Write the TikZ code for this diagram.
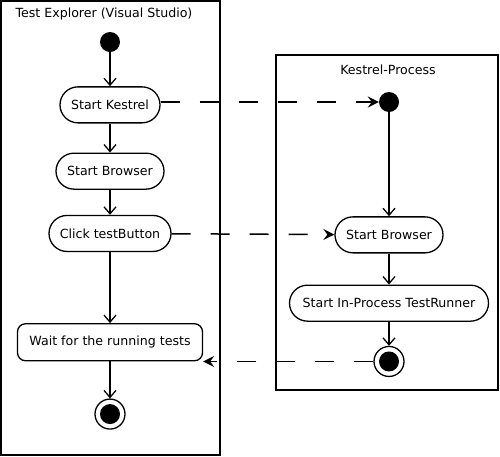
\documentclass[tikz,border=0pt]{standalone}
\usepackage{fontspec}
\setmainfont{DejaVu Sans}
\usetikzlibrary{positioning, arrows.meta}

\tikzset{
  act/.style={draw, rounded corners=18pt, minimum height=36pt, inner xsep=8pt,
              line width=1.3pt, fill=white},
  waitact/.style={draw, rounded corners=8pt, minimum height=37pt, inner xsep=10pt,
              line width=1.3pt, fill=white},
  initial/.style={circle, fill=black, minimum size=20pt, inner sep=0pt},
  final/.style={circle, draw, line width=1.3pt, minimum size=30pt, inner sep=0pt,
              path picture={\fill (path picture bounding box.center) circle (10pt);}},
  flow/.style={-{Straight Barb[length=7pt,width=12pt]}, line width=1.3pt},
  signal/.style={-{Stealth[length=11pt,width=11pt,inset=4pt]}, line width=1.5pt,
              dash pattern=on 19pt off 20pt},
  lane/.style={line width=1.6pt}
}

\begin{document}
\begin{tikzpicture}[x=1pt, y=-1pt, font=\fontsize{12.6pt}{15pt}\selectfont]
  \useasboundingbox (0,0) rectangle (500,456);

  % swimlanes
  \draw[lane] (1,1) rectangle (220,455);
  \draw[lane] (276,55) rectangle (498,390);
  \node[anchor=west] (title1) at (12,14) {Test Explorer (Visual Studio)};
  \node (title2) at (388,70) {Kestrel-Process};

  % test explorer side
  \node[initial] (start1) at (110,42) {};
  \node[act, minimum width=100pt, below=34pt of start1] (kestrel) {Start Kestrel};
  \node[act, minimum width=108pt, below=29pt of kestrel] (browser1) {Start Browser};
  \node[act, minimum width=122pt, below=25pt of browser1] (click) {Click testButton};
  \node[waitact, minimum width=185pt, below=71pt of click] (wait) {Wait for the running tests};
  \node[final, below=37pt of wait] (end1) {};

  % kestrel side
  \node[initial] (start2) at (389,102) {};
  \node[act, minimum width=108pt, below=104pt of start2] (browser2) {Start Browser};
  \node[act, minimum width=199pt, below=31pt of browser2] (runner) {Start In-Process TestRunner};
  \node[final, below=24pt of runner] (end2) {};

  \draw[flow] (start1) -- (kestrel);
  \draw[flow] (kestrel) -- (browser1);
  \draw[flow] (browser1) -- (click);
  \draw[flow] (click) -- (wait);
  \draw[flow] (wait) -- (end1);
  \draw[flow] (start2) -- (browser2);
  \draw[flow] (browser2) -- (runner);
  \draw[flow] (runner) -- (end2);

  % signals between the lanes
  \draw[signal] (kestrel.east |- start2) -- (start2.west);
  \draw[signal] (click) -- (browser2);
  \draw[signal] (end2) -- (end2 -| wait.east);
\end{tikzpicture}
\end{document}
